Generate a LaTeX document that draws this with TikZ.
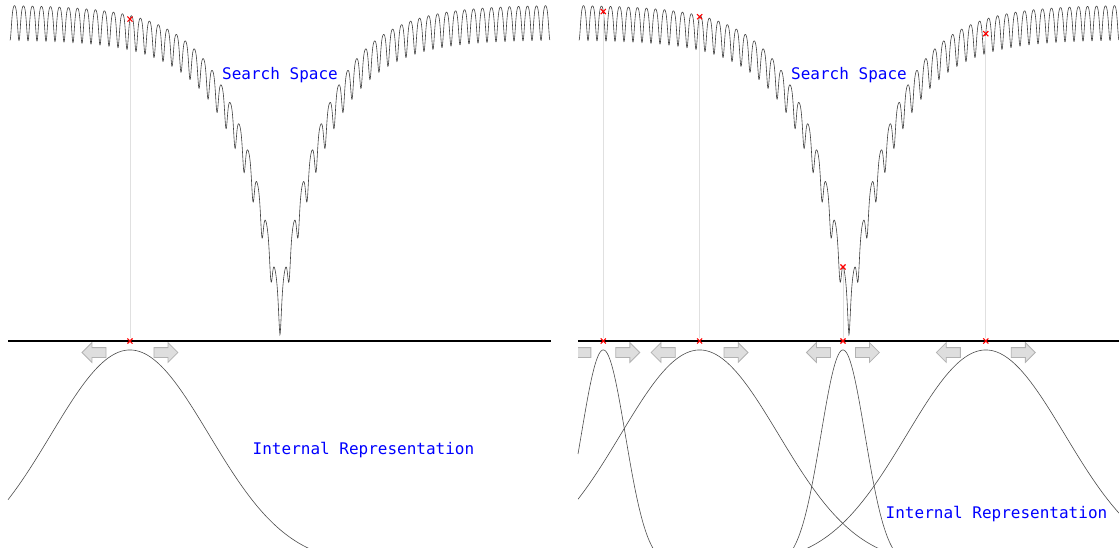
\documentclass[tikz,border=0pt]{standalone}
\usepackage{fontspec}
\setmonofont{DejaVu Sans Mono}
\usetikzlibrary{shapes.misc,shapes.arrows}
\begin{document}
\begin{tikzpicture}[x=1pt,y=-1pt,
  declare function={ack(\t)=22.71828-20*exp(-0.2*abs(\t))-exp(cos(360*\t));
                    sy(\t)=335-14.77*ack(\t);
                    gs(\t,\m,\s)=565-215*exp(-0.5*((\t-\m)/\s)^2);},
  curve/.style={black!75, line width=0.6pt},
  axisline/.style={black, line width=1.6pt},
  vline/.style={black!12, line width=0.8pt},
  redcross/.style={draw=red, cross out, line width=1.1pt, minimum size=4pt, inner sep=0pt},
  gauss/.style={black!70, line width=0.6pt},
  blockarrow/.style={single arrow, draw=black!30, fill=black!13, line width=0.8pt,
    minimum height=24pt, minimum width=19pt, single arrow head extend=5pt,
    inner xsep=0pt, inner ysep=4.5pt},
  lbl/.style={text=blue, font=\ttfamily\fontsize{16}{19}\selectfont, anchor=base, inner sep=0pt}]
\useasboundingbox (0,0) rectangle (1119,548);
\clip (0,0) rectangle (1119,548);

% ---------------- left panel ----------------
\pgfmathsetmacro{\ua}{-16.67}
\pgfmathsetmacro{\xa}{280+9*\ua}
\draw[curve] plot[domain=-30:30, samples=2401] ({280+9*\x},{sy(\x)});
\draw[gauss] plot[domain=8:340, samples=200] (\x,{gs(\x,\xa,79)});
\node[blockarrow, shape border rotate=180] (la1) at (\xa-33.5,352.5) {};
\node[blockarrow] (ra1) at (\xa+33.5,352.5) {};
\coordinate (la) at (8,341);
\coordinate (lb) at (551,341);
\draw[axisline] (la) -- (lb);
\node[redcross] (c1) at ({\xa},{sy(\ua)}) {};
\node[redcross] (a1) at (\xa,341) {};
\draw[vline] (c1) -- (a1);
\node[lbl] (ssL) at (280,79.5) {Search Space};
\node[lbl] (irL) at (363.5,454) {Internal Representation};

% ---------------- right panel ----------------
\pgfmathsetmacro{\ub}{-27.3}
\pgfmathsetmacro{\uc}{-16.6}
\pgfmathsetmacro{\ud}{-0.67}
\pgfmathsetmacro{\ue}{15.2}
\pgfmathsetmacro{\xb}{849+9*\ub}
\pgfmathsetmacro{\xc}{849+9*\uc}
\pgfmathsetmacro{\xd}{849+9*\ud}
\pgfmathsetmacro{\xe}{849+9*\ue}
\draw[curve] plot[domain=-30:30, samples=2401] ({849+9*\x},{sy(\x)});
\draw[gauss] plot[domain=578:670, samples=120] (\x,{gs(\x,\xb,22)});
\draw[gauss] plot[domain=578:910, samples=200] (\x,{gs(\x,\xc,79)});
\draw[gauss] plot[domain=778:908, samples=150] (\x,{gs(\x,\xd,22)});
\draw[gauss] plot[domain=780:1119, samples=200] (\x,{gs(\x,\xe,79)});
\begin{scope}
\clip (578,0) rectangle (1119,548);
\node[blockarrow, shape border rotate=180] (la2) at (\xb-22,352.5) {};
\end{scope}
\node[blockarrow] (ra2) at (\xb+22,352.5) {};
\node[blockarrow, shape border rotate=180] (la3) at (\xc-34,352.5) {};
\node[blockarrow] (ra3) at (\xc+34,352.5) {};
\node[blockarrow, shape border rotate=180] (la4) at (\xd-22,352.5) {};
\node[blockarrow] (ra4) at (\xd+22,352.5) {};
\node[blockarrow, shape border rotate=180] (la5) at (\xe-35,352.5) {};
\node[blockarrow] (ra5) at (\xe+35,352.5) {};
\coordinate (ra) at (578,341);
\coordinate (rb) at (1119,341);
\draw[axisline] (ra) -- (rb);
\node[redcross] (c2) at ({\xb},{sy(\ub)}) {};
\node[redcross] (a2) at (\xb,341) {};
\node[redcross] (c3) at ({\xc},{sy(\uc)}) {};
\node[redcross] (a3) at (\xc,341) {};
\node[redcross] (c4) at ({\xd},{sy(\ud)}) {};
\node[redcross] (a4) at (\xd,341) {};
\node[redcross] (c5) at ({\xe},{sy(\ue)}) {};
\node[redcross] (a5) at (\xe,341) {};
\draw[vline] (c2) -- (a2);
\draw[vline] (c3) -- (a3);
\draw[vline] (c4) -- (a4);
\draw[vline] (c5) -- (a5);
\node[lbl] (ssR) at (849,79.5) {Search Space};
\node[lbl] (irR) at (996.5,518) {Internal Representation};
\end{tikzpicture}
\end{document}
